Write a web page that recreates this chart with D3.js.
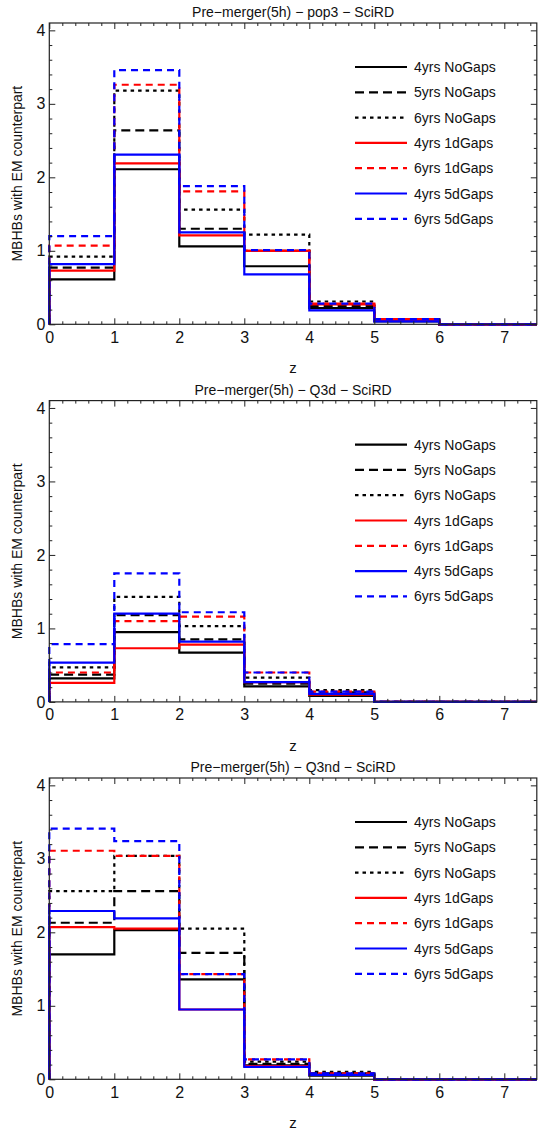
<!DOCTYPE html>
<html>
<head>
<meta charset="utf-8">
<script src="https://cdn.jsdelivr.net/npm/d3@7"></script>
<style>
  body { margin: 0; background: #fff; }
  svg { display: block; font-family: "Liberation Sans", Arial, Helvetica, sans-serif; }
</style>
</head>
<body>
<svg width="538" height="1133"></svg>
<script>
// lower bin edges in z (bin width 1, last one cut at 7.5)
const zBins = [0, 1, 2, 3, 4, 5, 6, 7];
const seriesNames = ["4yrs NoGaps", "5yrs NoGaps", "6yrs NoGaps", "4yrs 1dGaps", "6yrs 1dGaps", "4yrs 5dGaps", "6yrs 5dGaps"];
const panelTitles = [
  "Pre\u2212merger(5h) \u2212 pop3 \u2212 SciRD",
  "Pre\u2212merger(5h) \u2212 Q3d \u2212 SciRD",
  "Pre\u2212merger(5h) \u2212 Q3nd \u2212 SciRD",
];
const xTicks = [0, 1, 2, 3, 4, 5, 6, 7];
const yTicks = [0, 1, 2, 3, 4];

// one row per series, in the order of seriesNames
const pop3Values = [
  [0.61, 2.11, 1.06, 0.79, 0.22, 0.04, 0, 0],
  [0.77, 2.64, 1.30, 1.00, 0.25, 0.05, 0, 0],
  [0.92, 3.18, 1.56, 1.22, 0.31, 0.06, 0, 0],
  [0.73, 2.19, 1.21, 1.00, 0.27, 0.05, 0, 0],
  [1.07, 3.26, 1.81, 1.00, 0.28, 0.07, 0, 0],
  [0.82, 2.31, 1.25, 0.68, 0.19, 0.04, 0, 0],
  [1.20, 3.46, 1.88, 1.01, 0.28, 0.07, 0, 0],
];
const q3dValues = [
  [0.32, 0.95, 0.67, 0.21, 0.08, 0, 0, 0],
  [0.37, 1.18, 0.85, 0.25, 0.13, 0, 0, 0],
  [0.47, 1.43, 1.03, 0.33, 0.16, 0, 0, 0],
  [0.26, 0.73, 0.78, 0.27, 0.10, 0, 0, 0],
  [0.40, 1.10, 1.16, 0.40, 0.14, 0, 0, 0],
  [0.535, 1.20, 0.82, 0.27, 0.11, 0, 0, 0],
  [0.785, 1.75, 1.22, 0.40, 0.14, 0, 0, 0],
];
const q3ndValues = [
  [1.70, 2.03, 1.36, 0.19, 0.05, 0, 0, 0],
  [2.13, 2.56, 1.72, 0.21, 0.08, 0, 0, 0],
  [2.56, 3.04, 2.05, 0.24, 0.10, 0, 0, 0],
  [2.07, 2.05, 0.95, 0.18, 0.06, 0, 0, 0],
  [3.11, 3.04, 1.43, 0.27, 0.08, 0, 0, 0],
  [2.29, 2.19, 0.95, 0.17, 0.06, 0, 0, 0],
  [3.41, 3.24, 1.43, 0.27, 0.08, 0, 0, 0],
];
const panelValues = [pop3Values, q3dValues, q3ndValues];

// line styles, same order as seriesNames
const styles = [
  { color: "#000", dash: null },
  { color: "#000", dash: "9,5" },
  { color: "#000", dash: "3.5,4" },
  { color: "#f00", dash: null },
  { color: "#f00", dash: "7,5" },
  { color: "#00f", dash: null },
  { color: "#00f", dash: "7,5" },
];

const svg = d3.select("svg");

const plotLeft = 49.3;
const plotRight = 536.8;
const plotH = 301.3;
const panelTops = [23, 400.6, 778];

const x = d3.scaleLinear().domain([0, 7.5]).range([plotLeft, plotRight]);

const xMinor = d3.range(0, 7.51, 0.2).filter((v) => Math.abs(v - Math.round(v)) > 1e-6);
const yMinor = d3.range(0, 4.11, 0.2).filter((v) => Math.abs(v - Math.round(v)) > 1e-6);

panelValues.forEach((values, p) => {
  const top = panelTops[p];
  const bottom = top + plotH;
  const y = d3.scaleLinear().domain([0, 4.1]).range([bottom, top]);
  const g = svg.append("g");

  const clipId = "clip" + p;
  g.append("clipPath")
    .attr("id", clipId)
    .append("rect")
    .attr("x", plotLeft - 2)
    .attr("y", top)
    .attr("width", plotRight - plotLeft + 4)
    .attr("height", plotH + 2);

  // step histograms
  const line = d3
    .line()
    .x((d) => x(d[0]))
    .y((d) => y(d[1]))
    .curve(d3.curveStepAfter);

  values.forEach((vals, i) => {
    const pts = [[0, 0]].concat(zBins.map((z, k) => [z, vals[k]]));
    pts.push([7.5, vals[vals.length - 1]]);
    g.append("path")
      .attr("clip-path", `url(#${clipId})`)
      .attr("d", line(pts))
      .attr("fill", "none")
      .attr("stroke", styles[i].color)
      .attr("stroke-width", 2.2)
      .attr("stroke-dasharray", styles[i].dash);
  });

  // frame with inward ticks on every side
  const axisColor = "#222";
  const addAxis = (axis, tx, ty) => {
    const a = g.append("g").attr("transform", `translate(${tx},${ty})`).call(axis);
    a.select(".domain").remove();
    a.selectAll("line").attr("stroke", axisColor);
    return a;
  };

  const xb = addAxis(d3.axisBottom(x).tickValues(xTicks).tickSize(-6).tickPadding(7).tickFormat(d3.format("d")), 0, bottom);
  xb.selectAll("text").attr("font-size", 16).attr("fill", "#111");
  addAxis(d3.axisBottom(x).tickValues(xMinor).tickSize(-3).tickFormat(""), 0, bottom);
  addAxis(d3.axisTop(x).tickValues(xTicks).tickSize(-6).tickFormat(""), 0, top);
  addAxis(d3.axisTop(x).tickValues(xMinor).tickSize(-3).tickFormat(""), 0, top);

  const yl = addAxis(d3.axisLeft(y).tickValues(yTicks).tickSize(-6).tickPadding(4).tickFormat(d3.format("d")), plotLeft, 0);
  yl.selectAll("text").attr("font-size", 16).attr("fill", "#111");
  addAxis(d3.axisLeft(y).tickValues(yMinor).tickSize(-3).tickFormat(""), plotLeft, 0);
  addAxis(d3.axisRight(y).tickValues(yTicks).tickSize(-6).tickFormat(""), plotRight, 0);
  addAxis(d3.axisRight(y).tickValues(yMinor).tickSize(-3).tickFormat(""), plotRight, 0);

  g.append("rect")
    .attr("x", plotLeft)
    .attr("y", top)
    .attr("width", plotRight - plotLeft)
    .attr("height", plotH)
    .attr("fill", "none")
    .attr("stroke", axisColor)
    .attr("stroke-width", 1.2);

  // title and axis labels
  g.append("text")
    .attr("x", (plotLeft + plotRight) / 2)
    .attr("y", top - 6)
    .attr("text-anchor", "middle")
    .attr("font-size", 14)
    .attr("fill", "#111")
    .text(panelTitles[p]);

  g.append("text")
    .attr("x", x(3.75))
    .attr("y", bottom + 49)
    .attr("text-anchor", "middle")
    .attr("font-size", 15)
    .attr("fill", "#111")
    .text("z");

  g.append("text")
    .attr("transform", `translate(22,${(top + bottom) / 2}) rotate(-90)`)
    .attr("text-anchor", "middle")
    .attr("font-size", 14)
    .attr("fill", "#111")
    .text("MBHBs with EM counterpart");

  // legend
  const legend = g.append("g").attr("transform", `translate(355,${top + 44})`);
  seriesNames.forEach((name, i) => {
    const row = legend.append("g").attr("transform", `translate(0,${i * 25.3})`);
    row.append("line")
      .attr("x1", 0)
      .attr("x2", 52)
      .attr("stroke", styles[i].color)
      .attr("stroke-width", 2.2)
      .attr("stroke-dasharray", styles[i].dash);
    row.append("text")
      .attr("x", 59)
      .attr("y", 5)
      .attr("font-size", 14)
      .attr("fill", "#111")
      .text(name);
  });
});
</script>
</body>
</html>
